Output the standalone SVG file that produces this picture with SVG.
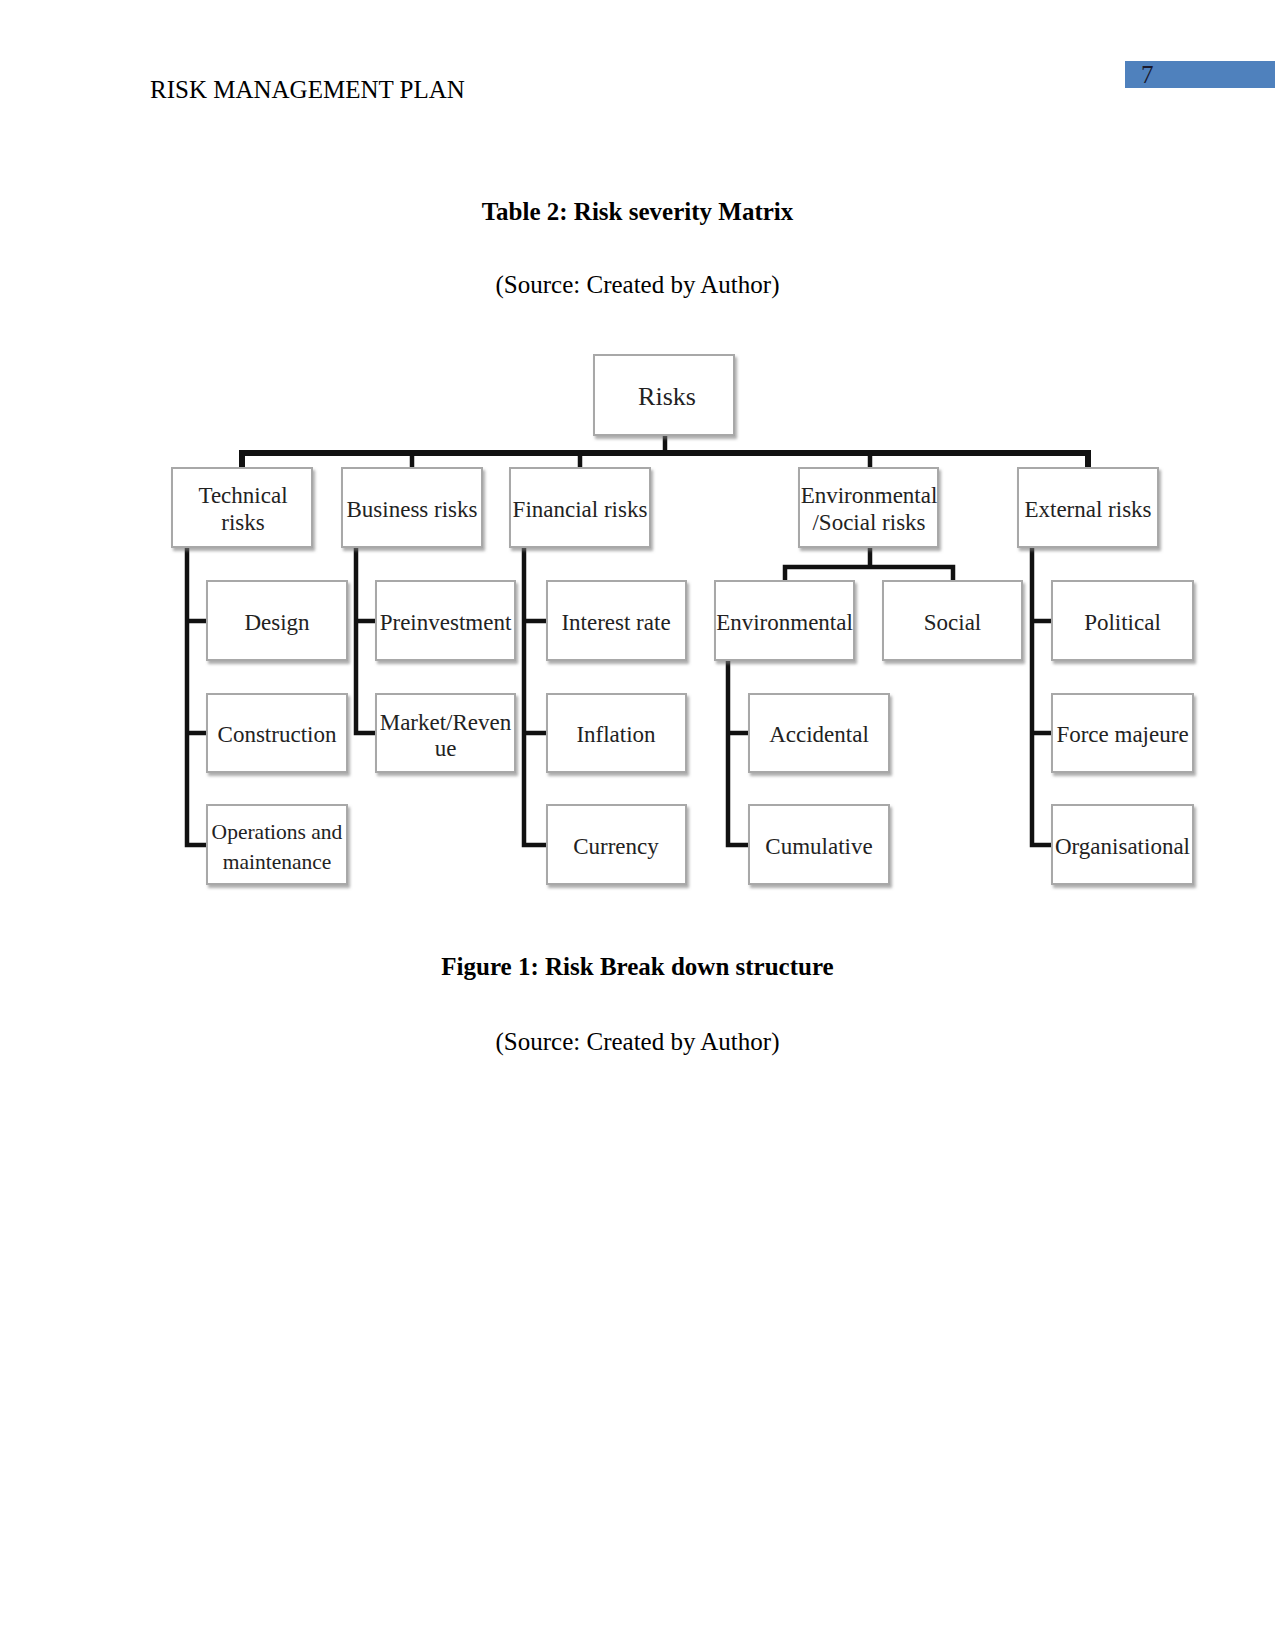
<svg xmlns="http://www.w3.org/2000/svg" width="1275" height="1650" viewBox="0 0 1275 1650">
<defs>
<filter id="sh" x="-10%" y="-10%" width="125%" height="130%">
<feDropShadow dx="2" dy="3" stdDeviation="1.5" flood-color="#777" flood-opacity="0.6"/>
</filter>
<style>
.pg{font-family:"Liberation Serif","Times New Roman",serif;font-size:25px;fill:#000}
.b{font-weight:bold}
.box{fill:#fff;stroke:#a8a8a8;stroke-width:2;filter:url(#sh)}
.lbl{font-family:"Liberation Serif","Times New Roman",serif;font-size:23px;fill:#222;text-anchor:middle}
.sm{font-size:21.5px}
.lg{font-size:26px}
.c{fill:none;stroke:#111;stroke-width:4.5;stroke-linejoin:miter}
.bar{stroke-width:6}
</style>
</defs>
<rect width="1275" height="1650" fill="#fff"/>
<text class="pg" x="150" y="98">RISK MANAGEMENT PLAN</text>
<rect x="1125" y="61" width="150" height="27" fill="#4F81BD"/>
<text class="pg" x="1141" y="83" style="fill:#1a1a2e">7</text>
<text class="pg b" x="637.5" y="220" text-anchor="middle">Table 2: Risk severity Matrix</text>
<text class="pg" x="637.5" y="293" text-anchor="middle">(Source: Created by Author)</text>
<text class="pg b" x="637.5" y="975" text-anchor="middle">Figure 1: Risk Break down structure</text>
<text class="pg" x="637.5" y="1050" text-anchor="middle">(Source: Created by Author)</text>

<g id="connectors">
<path class="c" d="M665 435V453"/>
<path class="c bar" d="M242 470V453H1088V470"/>
<path class="c" d="M412 453V468M580 453V468M870 453V468"/>
<path class="c" d="M187 547V845H207M187 621H207M187 733H207"/>
<path class="c" d="M356 547V733H376M356 621H376"/>
<path class="c" d="M524 547V845H547M524 621H547M524 733H547"/>
<path class="c" d="M870 547V567M785 582V567H953V580"/>
<path class="c" d="M728 660V845H749M728 733H749"/>
<path class="c" d="M1032 547V845H1052M1032 621H1052M1032 733H1052"/>
</g>

<g id="risks"><rect class="box" x="594" y="355" width="140" height="80"/><text class="lbl lg" x="667" y="405">Risks</text></g>
<g id="technical"><rect class="box" x="172" y="468" width="140" height="79"/><text class="lbl" x="243" y="503">Technical</text><text class="lbl" x="243" y="530">risks</text></g>
<g id="business"><rect class="box" x="342" y="468" width="140" height="79"/><text class="lbl" x="412" y="517">Business risks</text></g>
<g id="financial"><rect class="box" x="510" y="468" width="140" height="79"/><text class="lbl" x="580" y="517">Financial risks</text></g>
<g id="envsocial"><rect class="box" x="799" y="468" width="139" height="79"/><text class="lbl" x="869" y="503">Environmental</text><text class="lbl" x="869" y="530">/Social risks</text></g>
<g id="external"><rect class="box" x="1018" y="468" width="140" height="79"/><text class="lbl" x="1088" y="517">External risks</text></g>

<g id="design"><rect class="box" x="207" y="581" width="140" height="79"/><text class="lbl" x="277" y="630">Design</text></g>
<g id="construction"><rect class="box" x="207" y="694" width="140" height="78"/><text class="lbl" x="277" y="742">Construction</text></g>
<g id="operations"><rect class="box" x="207" y="805" width="140" height="79"/><text class="lbl sm" x="277" y="839">Operations and</text><text class="lbl sm" x="277" y="869">maintenance</text></g>

<g id="preinvestment"><rect class="box" x="376" y="581" width="139" height="79"/><text class="lbl" x="445.5" y="630">Preinvestment</text></g>
<g id="market"><rect class="box" x="376" y="694" width="139" height="78"/><text class="lbl" x="445.5" y="730">Market/Reven</text><text class="lbl" x="445.5" y="756">ue</text></g>

<g id="interest"><rect class="box" x="547" y="581" width="139" height="79"/><text class="lbl" x="616" y="630">Interest rate</text></g>
<g id="inflation"><rect class="box" x="547" y="694" width="139" height="78"/><text class="lbl" x="616" y="742">Inflation</text></g>
<g id="currency"><rect class="box" x="547" y="805" width="139" height="79"/><text class="lbl" x="616" y="854">Currency</text></g>

<g id="environmental"><rect class="box" x="715" y="581" width="139" height="79"/><text class="lbl" x="784.5" y="630">Environmental</text></g>
<g id="social"><rect class="box" x="883" y="581" width="139" height="79"/><text class="lbl" x="952.5" y="630">Social</text></g>
<g id="accidental"><rect class="box" x="749" y="694" width="140" height="78"/><text class="lbl" x="819" y="742">Accidental</text></g>
<g id="cumulative"><rect class="box" x="749" y="805" width="140" height="79"/><text class="lbl" x="819" y="854">Cumulative</text></g>

<g id="political"><rect class="box" x="1052" y="581" width="141" height="79"/><text class="lbl" x="1122.5" y="630">Political</text></g>
<g id="forcemajeure"><rect class="box" x="1052" y="694" width="141" height="78"/><text class="lbl" x="1122.5" y="742">Force majeure</text></g>
<g id="organisational"><rect class="box" x="1052" y="805" width="141" height="79"/><text class="lbl" x="1122.5" y="854">Organisational</text></g>
</svg>
